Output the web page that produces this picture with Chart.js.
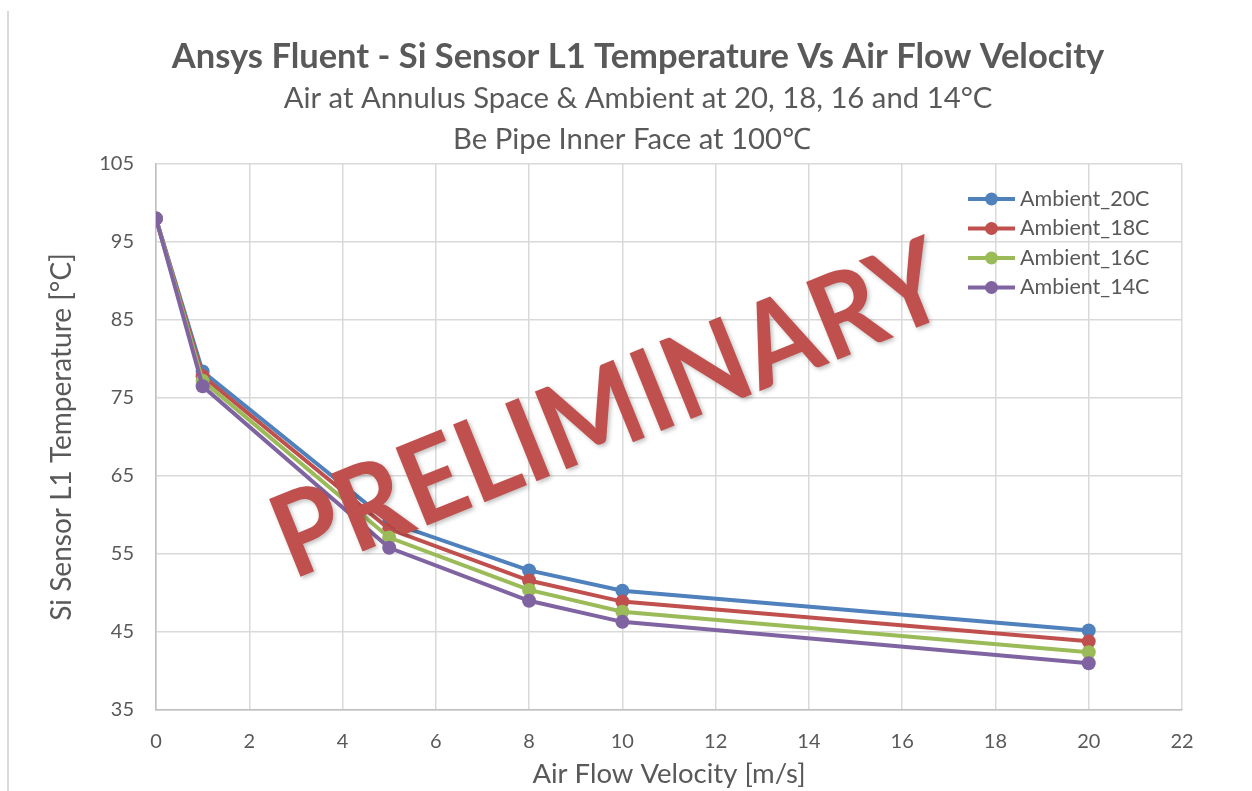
<!DOCTYPE html>
<html>
<head>
<meta charset="utf-8">
<script src="https://cdn.jsdelivr.net/npm/chart.js@4.4.1/dist/chart.umd.min.js"></script>
<style>
  html, body { margin: 0; padding: 0; background: #ffffff; }
  #wrap { position: relative; width: 1252px; height: 791px; }
  #frame { position: absolute; left: 7px; top: 11px; width: 2px; height: 780px; background: #d9d9d9; }
  canvas { position: absolute; left: 0; top: 0; }
</style>
</head>
<body>
<div id="wrap">
  <div id="frame"></div>
  <canvas id="c" width="1252" height="791"></canvas>
</div>
<script>
// ---- data ----
const velocity = [0, 1, 5, 8, 10, 20];
const ambient20 = [98.0, 78.4, 59.1, 52.9, 50.3, 45.2];
const ambient18 = [98.0, 77.8, 58.2, 51.6, 48.9, 43.8];
const ambient16 = [98.0, 77.2, 57.1, 50.4, 47.6, 42.4];
const ambient14 = [98.0, 76.5, 55.8, 49.0, 46.3, 41.0];
const seriesNames = ['Ambient_20C', 'Ambient_18C', 'Ambient_16C', 'Ambient_14C'];
const seriesValues = [ambient20, ambient18, ambient16, ambient14];
const seriesColors = ['#4f81bd', '#c0504d', '#9bbb59', '#8064a2'];
const xTicks = [0, 2, 4, 6, 8, 10, 12, 14, 16, 18, 20, 22];
const yTicks = [35, 45, 55, 65, 75, 85, 95, 105];
const titleText = 'Ansys Fluent - Si Sensor L1 Temperature Vs Air Flow Velocity';
const subtitleLines = ['Air at Annulus Space & Ambient at 20, 18, 16 and 14°C', 'Be Pipe Inner Face at 100℃'];
const xTitle = 'Air Flow Velocity [m/s]';
const yTitle = 'Si Sensor L1 Temperature [°C]';
const watermark = 'PRELIMINARY';

const FONT = 'Lato, Carlito, "Open Sans", sans-serif';
const TXT = '#595959';

const datasets = seriesNames.map((name, i) => ({
  label: name,
  data: velocity.map((v, j) => ({ x: v, y: seriesValues[i][j] })),
  borderColor: seriesColors[i],
  backgroundColor: seriesColors[i],
  borderWidth: 4,
  pointRadius: 7,
  pointHoverRadius: 7,
  pointBorderWidth: 0,
  tension: 0,
  order: seriesNames.length - 1 - i
}));

const titlesPlugin = {
  id: 'titles',
  afterDraw(chart) {
    const ctx = chart.ctx;
    ctx.save();
    ctx.fillStyle = TXT;
    ctx.textAlign = 'center';
    ctx.textBaseline = 'middle';
    ctx.font = 'bold 34.5px ' + FONT;
    ctx.fillText(titleText, 638, 57);
    ctx.font = '29.3px ' + FONT;
    ctx.fillText(subtitleLines[0], 638, 99);
    ctx.fillText(subtitleLines[1], 632, 140);
    ctx.restore();
  }
};

const legendPlugin = {
  id: 'customLegend',
  afterDraw(chart) {
    const ctx = chart.ctx;
    ctx.save();
    ctx.font = '21.5px ' + FONT;
    ctx.textBaseline = 'middle';
    ctx.textAlign = 'left';
    chart.data.datasets.forEach((ds, i) => {
      const y = 199 + i * 29.5;
      ctx.strokeStyle = ds.borderColor;
      ctx.lineWidth = 4;
      ctx.beginPath();
      ctx.moveTo(968, y);
      ctx.lineTo(1015, y);
      ctx.stroke();
      ctx.fillStyle = ds.backgroundColor;
      ctx.beginPath();
      ctx.arc(991.5, y, 6.5, 0, Math.PI * 2);
      ctx.fill();
      ctx.fillStyle = TXT;
      ctx.fillText(ds.label, 1020, y);
    });
    ctx.restore();
  }
};

const watermarkPlugin = {
  id: 'watermark',
  afterDatasetsDraw(chart) {
    const ctx = chart.ctx;
    ctx.save();
    ctx.translate(624, 446);
    ctx.rotate(-22 * Math.PI / 180);
    ctx.font = 'bold 116px ' + FONT;
    const w = ctx.measureText(watermark).width;
    const target = 715;
    ctx.scale(target / w, 1);
    ctx.textAlign = 'center';
    ctx.textBaseline = 'alphabetic';
    ctx.shadowColor = 'rgba(0,0,0,0.25)';
    ctx.shadowBlur = 4;
    ctx.shadowOffsetX = 2;
    ctx.shadowOffsetY = 2;
    ctx.fillStyle = '#c0504d';
    ctx.fillText(watermark, 0, 0);
    ctx.restore();
  }
};

new Chart(document.getElementById('c'), {
  type: 'line',
  data: { datasets },
  plugins: [titlesPlugin, legendPlugin, watermarkPlugin],
  options: {
    responsive: false,
    animation: false,
    events: [],
    layout: { padding: { top: 164, left: 30, right: 70, bottom: 0 } },
    plugins: { legend: { display: false }, title: { display: false }, tooltip: { enabled: false } },
    scales: {
      x: {
        type: 'linear',
        min: 0, max: 22,
        afterBuildTicks(scale) { scale.ticks = xTicks.map(v => ({ value: v })); },
        afterFit(scale) { scale.height = 81; },
        grid: { color: '#d9d9d9', lineWidth: 1.5, drawTicks: false },
        border: { color: '#bfbfbf', width: 1.5 },
        ticks: { color: TXT, font: { family: FONT, size: 20 }, padding: 20, maxRotation: 0 },
        title: { display: true, text: xTitle, color: TXT, font: { family: FONT, size: 27.5 }, padding: { top: 0, bottom: 0 } }
      },
      y: {
        type: 'linear',
        min: 35, max: 105,
        afterBuildTicks(scale) { scale.ticks = yTicks.map(v => ({ value: v })); },
        afterFit(scale) { scale.width = 126; },
        grid: { color: '#d9d9d9', lineWidth: 1.5, drawTicks: false },
        border: { color: '#bfbfbf', width: 1.5 },
        ticks: { color: TXT, font: { family: FONT, size: 20 }, padding: 22 },
        title: { display: true, text: yTitle, color: TXT, font: { family: FONT, size: 28 }, padding: { top: 15, bottom: 0 } }
      }
    }
  }
});
</script>
</body>
</html>
